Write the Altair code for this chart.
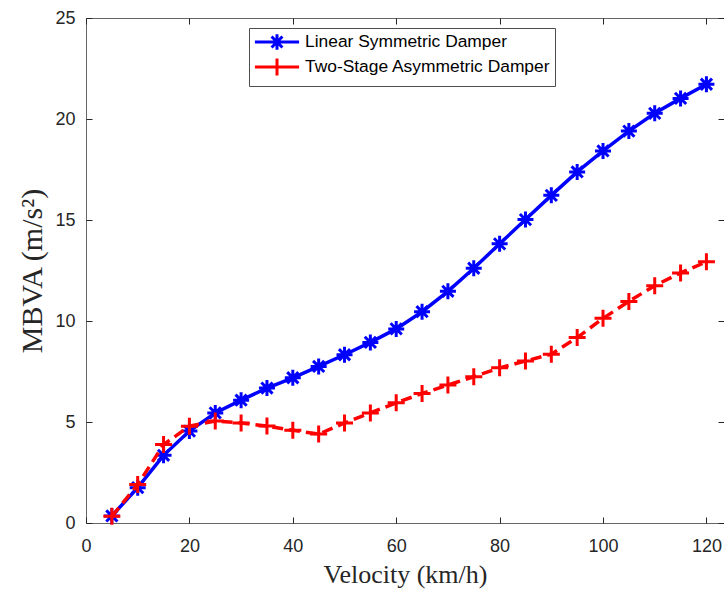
import altair as alt
import pandas as pd

# ---- data ----
velocity = [5, 10, 15, 20, 25, 30, 35, 40, 45, 50, 55, 60,
            65, 70, 75, 80, 85, 90, 95, 100, 105, 110, 115, 120]
linear_sym = [0.35, 1.75, 3.35, 4.55, 5.45, 6.08, 6.68, 7.19, 7.75, 8.33, 8.94, 9.61,
              10.46, 11.47, 12.61, 13.82, 15.02, 16.22, 17.38, 18.42, 19.40, 20.28, 21.02, 21.72]
two_stage = [0.33, 1.90, 3.88, 4.79, 5.05, 4.95, 4.80, 4.59, 4.40, 4.95, 5.45, 5.95,
             6.41, 6.83, 7.24, 7.68, 8.02, 8.36, 9.18, 10.13, 10.97, 11.75, 12.38, 12.93]
series_names = ["Linear Symmetric Damper", "Two-Stage Asymmetric Damper"]
series_colors = ["#0000ff", "#ff0000"]
x_ticks = [0, 20, 40, 60, 80, 100, 120]
y_ticks = [0, 5, 10, 15, 20, 25]

rows = []
for v, a, b in zip(velocity, linear_sym, two_stage):
    rows.append({"v": v, "mbva": a, "series": series_names[0]})
    rows.append({"v": v, "mbva": b, "series": series_names[1]})
df = pd.DataFrame(rows)

AST = "M-1,0L1,0M0,-1L0,1M-0.7,-0.7L0.7,0.7M-0.7,0.7L0.7,-0.7"
PLUS = "M-1,0L1,0M0,-1L0,1"
LEG_AST = "M-2.6,0L2.6,0M0,-0.9L0,0.9M-0.64,-0.64L0.64,0.64M-0.64,0.64L0.64,-0.64"
LEG_PLUS = "M-2.6,0L2.6,0M0,-1L0,1"

AX = "#262626"
TICK_FONT = "Liberation Sans"
TITLE_FONT = "Liberation Serif"

xscale = alt.Scale(domain=[0, 123.4], nice=False, zero=False)
yscale = alt.Scale(domain=[0, 25], nice=False)
cscale = alt.Scale(domain=series_names, range=series_colors)

x_bottom = alt.X("v:Q", scale=xscale, axis=alt.Axis(
    orient="bottom", values=x_ticks, title="Velocity (km/h)", domain=False, grid=False,
    tickSize=6, offset=-6, tickColor=AX, tickWidth=1, labelFlush=False,
    labelFont=TICK_FONT, labelFontSize=18, labelColor=AX, labelPadding=14,
    titleFont=TITLE_FONT, titleFontSize=26, titleFontWeight="normal", titleColor=AX,
    titlePadding=6))
y_left = alt.Y("mbva:Q", scale=yscale, axis=alt.Axis(
    orient="left", values=y_ticks, title="MBVA (m/s²)", domain=False, grid=False,
    tickSize=6, offset=-6, tickColor=AX, tickWidth=1, labelFlush=False,
    labelFont=TICK_FONT, labelFontSize=18, labelColor=AX, labelPadding=11,
    titleFont=TITLE_FONT, titleFontSize=30, titleFontWeight="normal", titleColor=AX,
    titlePadding=7))

x_top = alt.X("v:Q", scale=xscale, axis=alt.Axis(
    orient="top", values=x_ticks, title=None, labels=False, domain=False, grid=False,
    tickSize=6, offset=-6, tickColor=AX, tickWidth=1))
y_right = alt.Y("mbva:Q", scale=yscale, axis=alt.Axis(
    orient="right", values=y_ticks, title=None, labels=False, domain=False, grid=False,
    tickSize=6, offset=-6, tickColor=AX, tickWidth=1))

x_none = alt.X("v:Q", scale=xscale, axis=None)
y_none = alt.Y("mbva:Q", scale=yscale, axis=None)

base = alt.Chart(df)
blue_data = base.transform_filter(alt.datum.series == series_names[0])
red_data = base.transform_filter(alt.datum.series == series_names[1])

line_blue = blue_data.mark_line(strokeWidth=3.5, color=series_colors[0]).encode(x=x_bottom, y=y_left)
frame_axes = blue_data.mark_line(opacity=0).encode(x=x_top, y=y_right)
pts_blue = blue_data.mark_point(
    shape=AST, size=256, filled=False, strokeWidth=3, color=series_colors[0], opacity=1
).encode(x=x_none, y=y_none)

line_red = red_data.mark_line(strokeWidth=3.5, color=series_colors[1], strokeDash=[11, 6]).encode(x=x_none, y=y_none)
pts_red = red_data.mark_point(
    shape=PLUS, size=289, filled=False, strokeWidth=3, color=series_colors[1], opacity=1
).encode(x=x_none, y=y_none)

leg = alt.Legend(
    orient="none", legendX=163, legendY=10, title=None,
    symbolSize=289, symbolStrokeWidth=3, symbolOffset=14, symbolOpacity=1,
    labelFont=TICK_FONT, labelFontSize=17.4, labelColor="#000000", labelOffset=18,
    labelLimit=400, strokeColor="#4d4d4d", fillColor="white", padding=4, rowPadding=-4)

# zero-size points: only there to carry the legend (line + marker symbols)
legend_layer = base.mark_point(filled=False, strokeWidth=3, opacity=1).encode(
    x=x_none, y=y_none,
    size=alt.value(0),
    color=alt.Color("series:N", scale=cscale, legend=leg),
    shape=alt.Shape("series:N", scale=alt.Scale(domain=series_names, range=[LEG_AST, LEG_PLUS]),
                    legend=leg),
)

chart = alt.layer(line_blue, frame_axes, pts_blue, line_red, pts_red, legend_layer).resolve_axis(
    x="independent", y="independent"
).properties(
    width=638, height=505,
    autosize=alt.AutoSizeParams(type="none"),
    padding={"left": 86, "top": 18, "right": 0, "bottom": 66},
    background="white",
).configure_view(stroke="#666666", strokeWidth=1)

chart.save("out.html", embed_options={"renderer": "svg", "actions": False})
